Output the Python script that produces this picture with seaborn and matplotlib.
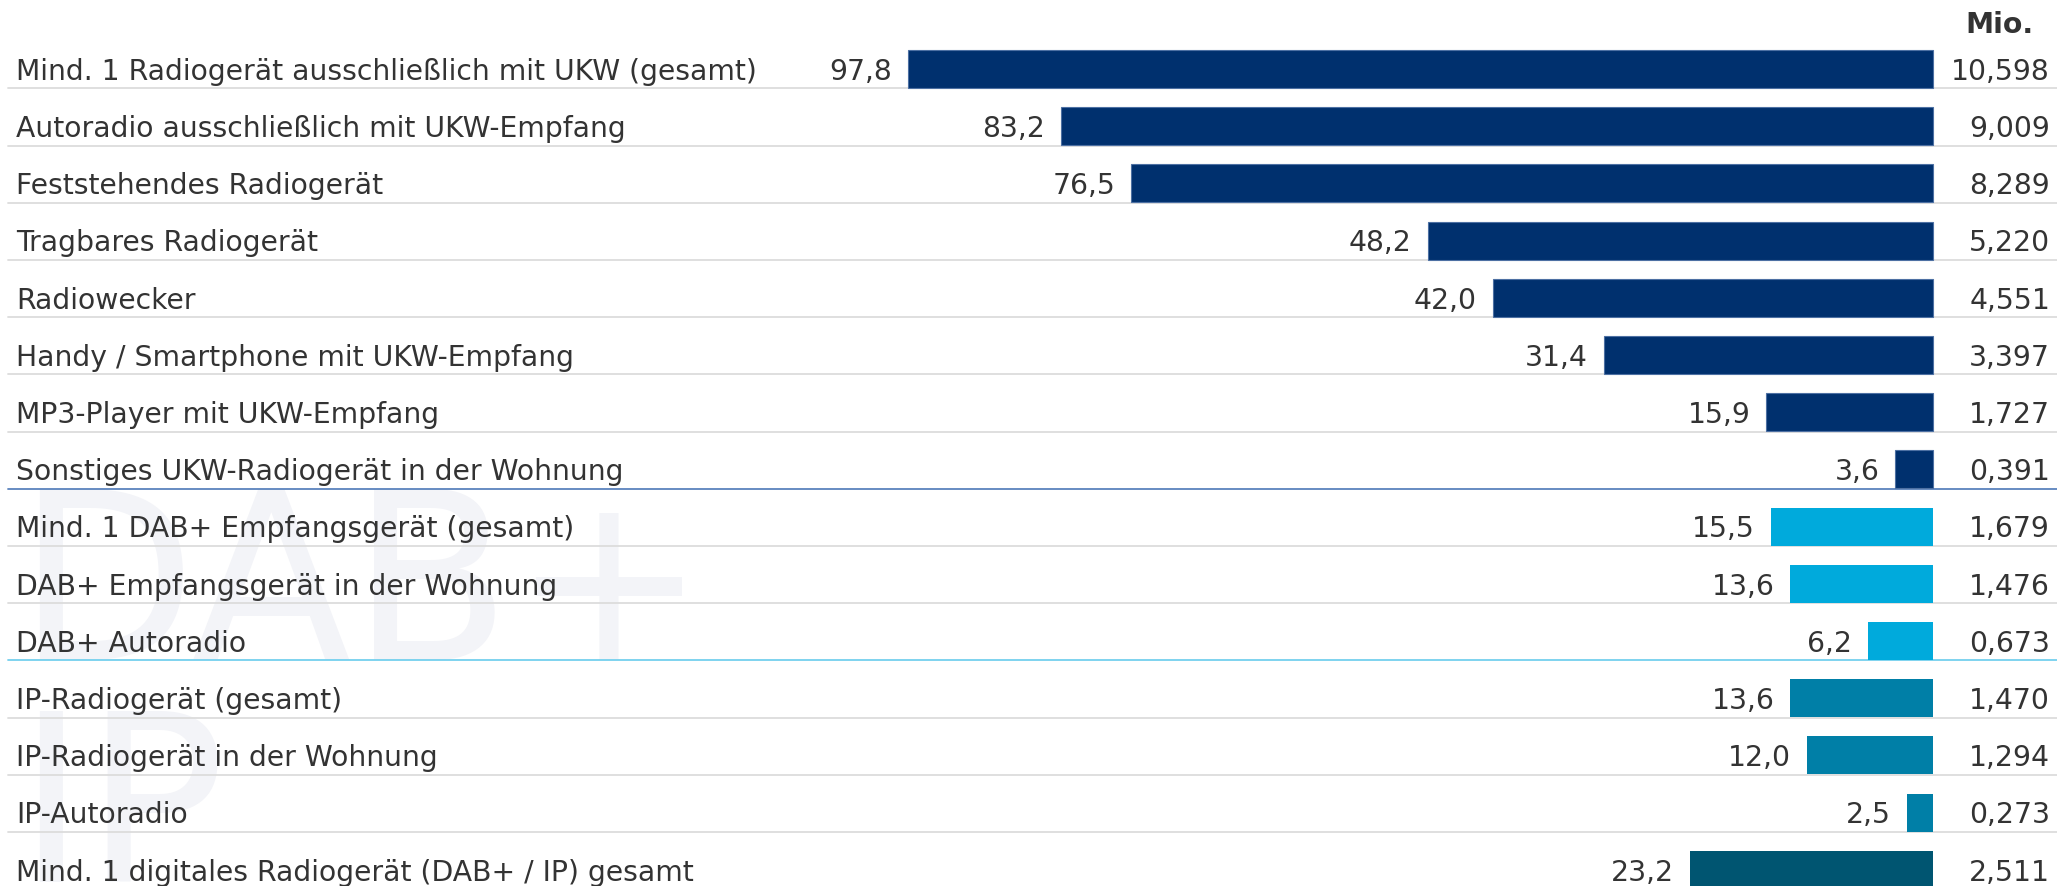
import matplotlib
matplotlib.use("Agg")
import matplotlib.pyplot as plt
import matplotlib.transforms as mtransforms
import matplotlib.colors as mcolors
import seaborn as sns
import pandas as pd

categories = [
    "Mind. 1 Radiogerät ausschließlich mit UKW (gesamt)",
    "Autoradio ausschließlich mit UKW-Empfang",
    "Feststehendes Radiogerät",
    "Tragbares Radiogerät",
    "Radiowecker",
    "Handy / Smartphone mit UKW-Empfang",
    "MP3-Player mit UKW-Empfang",
    "Sonstiges UKW-Radiogerät in der Wohnung",
    "Mind. 1 DAB+ Empfangsgerät (gesamt)",
    "DAB+ Empfangsgerät in der Wohnung",
    "DAB+ Autoradio",
    "IP-Radiogerät (gesamt)",
    "IP-Radiogerät in der Wohnung",
    "IP-Autoradio",
    "Mind. 1 digitales Radiogerät (DAB+ / IP) gesamt",
]
percent = [97.8, 83.2, 76.5, 48.2, 42.0, 31.4, 15.9, 3.6, 15.5, 13.6, 6.2, 13.6, 12.0, 2.5, 23.2]
millions = ["10,598", "9,009", "8,289", "5,220", "4,551", "3,397", "1,727", "0,391",
            "1,679", "1,476", "0,673", "1,470", "1,294", "0,273", "2,511"]
groups = ["UKW"] * 8 + ["DAB"] * 3 + ["IP"] * 3 + ["Digital"]
palette = {"UKW": "#00306e", "DAB": "#00aadc", "IP": "#007fa7", "Digital": "#005571"}
unit_label = "Mio."
watermarks = ["DAB+", "IP"]

sns.set_style("white")
plt.rcParams["font.family"] = ["DejaVu Sans"]

W, H = 2057, 886
fig = plt.figure(figsize=(W / 100, H / 100), dpi=100)
ax = fig.add_axes([0, 0, 1, 1])
ax.set_facecolor("white")

df = pd.DataFrame({"category": categories, "percent": percent, "group": groups})
sns.barplot(data=df, x="percent", y="category", hue="group", palette=palette,
            dodge=False, width=0.665, orient="h", saturation=1, legend=False,
            linewidth=0, ax=ax, zorder=3)

# subtle lighter outline on the dark UKW bars
navy = mcolors.to_rgba(palette["UKW"])
for p in ax.patches:
    if all(abs(a - b) < 1e-3 for a, b in zip(p.get_facecolor(), navy)):
        p.set_edgecolor("#4d70a3")
        p.set_linewidth(0.8)

px_per_unit = 10.48
zero_px = 1933
ax.set_xlim(zero_px / px_per_unit, -(W - zero_px) / px_per_unit)
pitch = 57.2
c0 = 69.0
ax.set_ylim((H - c0) / pitch, -c0 / pitch)
ax.set_axis_off()

text_color = "#333333"
fs = 20.3
blend = mtransforms.blended_transform_factory(ax.transAxes, ax.transData)

# watermarks
ax.text(16 / W, 1 - 660 / H, watermarks[0], transform=ax.transAxes, fontsize=168,
        color="#f3f4f8", ha="left", va="baseline", zorder=0)
ax.text(16 / W, 1 - 882 / H, watermarks[1], transform=ax.transAxes, fontsize=168,
        color="#f3f4f8", ha="left", va="baseline", zorder=0)

sep_colors = ["#dcdcdc"] * len(categories)
sep_colors[7] = "#5a82bd"
sep_colors[10] = "#74d0ee"
for i, (cat, v, m) in enumerate(zip(categories, percent, millions)):
    ax.axhline(i + 0.34, xmin=8 / W, xmax=1, color=sep_colors[i], lw=1.3, zorder=2)
    ax.text(16 / W, i + 0.19, cat, transform=blend, ha="left", va="baseline",
            fontsize=fs, color=text_color, zorder=4)
    ax.text(v + 16 / px_per_unit, i + 0.19, f"{v:.1f}".replace(".", ","), ha="right",
            va="baseline", fontsize=fs, color=text_color, zorder=4)
    ax.text(2050 / W, i + 0.19, m, transform=blend, ha="right", va="baseline",
            fontsize=fs, color=text_color, zorder=4)

fig.text(2033 / W, 1 - 33 / H, unit_label, ha="right", va="baseline", fontsize=fs,
         fontweight="bold", color=text_color)

fig.savefig("out.png", dpi=100, facecolor="white")
